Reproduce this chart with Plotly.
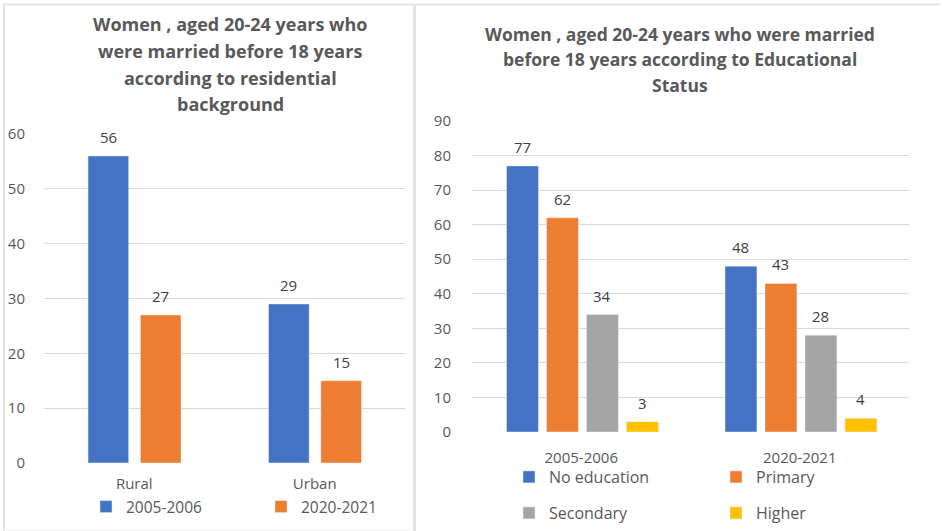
import plotly.graph_objects as go

# ---- data ----
res_categories = ["Rural", "Urban"]
res_years = ["2005-2006", "2020-2021"]
res_values = {"2005-2006": [56, 29], "2020-2021": [27, 15]}

edu_categories = ["2005-2006", "2020-2021"]
edu_levels = ["No education", "Primary", "Secondary", "Higher"]
edu_values = {
    "No education": [77, 48],
    "Primary": [62, 43],
    "Secondary": [34, 28],
    "Higher": [3, 4],
}

res_ticks = [0, 10, 20, 30, 40, 50, 60]
edu_ticks = [0, 10, 20, 30, 40, 50, 60, 70, 80, 90]

res_title_lines = ["Women , aged 20-24 years who", "were married before 18 years",
                   "according to residential", "background"]
edu_title_lines = ["Women , aged 20-24 years who were married",
                   "before 18 years according to Educational", "Status"]

# ---- styles ----
W, H = 942, 531
colors = {
    "2005-2006": "#4472C4", "2020-2021": "#ED7D31",
    "No education": "#4472C4", "Primary": "#ED7D31",
    "Secondary": "#A5A5A5", "Higher": "#FFC000",
}
FONT = "Open Sans"
TXT = "#595959"
GRID = "#D9D9D9"

res_width = 0.225
res_offsets = [-0.256, 0.034]
edu_width = 0.146
edu_offsets = [-0.342, -0.159, 0.024, 0.207]

fig = go.Figure()
annotations = []

for i, yr in enumerate(res_years):
    fig.add_trace(go.Bar(
        x=res_categories, y=res_values[yr], name=yr,
        marker_color=colors[yr], width=res_width, offset=res_offsets[i],
        xaxis="x", yaxis="y", legend="legend", hoverinfo="skip",
    ))
    for j, v in enumerate(res_values[yr]):
        annotations.append(dict(
            x=j + res_offsets[i] + res_width / 2, y=v, xref="x", yref="y",
            text=str(v), showarrow=False, yanchor="bottom", yshift=7,
            font=dict(family=FONT, size=15, color="#404040"),
        ))

for i, lv in enumerate(edu_levels):
    fig.add_trace(go.Bar(
        x=edu_categories, y=edu_values[lv], name=lv,
        marker_color=colors[lv], width=edu_width, offset=edu_offsets[i],
        xaxis="x2", yaxis="y2", legend="legend2" if i < 2 else "legend3",
        hoverinfo="skip",
    ))
    for j, v in enumerate(edu_values[lv]):
        annotations.append(dict(
            x=j + edu_offsets[i] + edu_width / 2, y=v, xref="x2", yref="y2",
            text=str(v), showarrow=False, yanchor="bottom", yshift=7,
            font=dict(family=FONT, size=15, color="#404040"),
        ))

# titles (one annotation per line to match line spacing)
for k, line in enumerate(res_title_lines):
    annotations.append(dict(
        x=230 / W, y=1 - (24 + 26.8 * k) / H, xref="paper", yref="paper",
        xanchor="center", yanchor="middle", text="<b>" + line + "</b>",
        showarrow=False, font=dict(family=FONT, size=18, color=TXT),
    ))
for k, line in enumerate(edu_title_lines):
    annotations.append(dict(
        x=680 / W, y=1 - (34 + 25.5 * k) / H, xref="paper", yref="paper",
        xanchor="center", yanchor="middle", text="<b>" + line + "</b>",
        showarrow=False, font=dict(family=FONT, size=17.5, color=TXT),
    ))

axis_common = dict(
    showline=False, zeroline=False, ticks="", fixedrange=True, automargin=False,
    tickfont=dict(family=FONT, size=15, color=TXT),
)

shapes = [
    dict(type="line", xref="paper", yref="paper", x0=3 / W, x1=940 / W, y0=1 - 4.5 / H, y1=1 - 4.5 / H,
         line=dict(color="#E3E3E3", width=2)),
    dict(type="line", xref="paper", yref="paper", x0=4 / W, x1=4 / W, y0=0, y1=1 - 4.5 / H,
         line=dict(color="#E3E3E3", width=2)),
    dict(type="line", xref="paper", yref="paper", x0=414.5 / W, x1=414.5 / W, y0=0, y1=1 - 4.5 / H,
         line=dict(color="#E3E3E3", width=3)),
    dict(type="line", xref="paper", yref="paper", x0=3 / W, x1=414 / W, y0=1.5 / H, y1=1.5 / H,
         line=dict(color="#F0F0F0", width=1)),
]

legend_common = dict(orientation="h", xanchor="left", yanchor="middle",
                     font=dict(family=FONT, size=16, color=TXT),
                     bgcolor="rgba(0,0,0,0)", itemclick=False, itemdoubleclick=False)

fig.update_layout(
    width=W, height=H, margin=dict(l=0, r=0, t=0, b=0, autoexpand=False),
    paper_bgcolor="white", plot_bgcolor="white",
    barmode="overlay",
    xaxis=dict(domain=[44 / W, 405 / W], anchor="y", type="category",
               **axis_common, showgrid=False, ticklabelstandoff=10),
    yaxis=dict(domain=[(H - 463) / H, (H - 134) / H], anchor="x", range=[0, 60],
               tickvals=res_ticks, showgrid=True, gridcolor=GRID, gridwidth=1,
               ticklabelstandoff=18, **axis_common),
    xaxis2=dict(domain=[472 / W, 909 / W], anchor="y2", type="category",
                **axis_common, showgrid=False, ticklabelstandoff=15),
    yaxis2=dict(domain=[(H - 432) / H, (H - 121) / H], anchor="x2", range=[0, 90],
                tickvals=edu_ticks, showgrid=True, gridcolor=GRID, gridwidth=1,
                ticklabelstandoff=20, **axis_common),
    legend=dict(x=86 / W, y=1 - 507 / H, entrywidth=130,
                **{**legend_common, "font": dict(family=FONT, size=15.5, color=TXT)}),
    legend2=dict(x=509 / W, y=1 - 477 / H, entrywidth=162, **legend_common),
    legend3=dict(x=509 / W, y=1 - 513 / H, entrywidth=162, **legend_common),
    annotations=annotations,
    shapes=shapes,
    showlegend=True,
)

fig.write_html("out.html", config={"displayModeBar": False},
               post_script="document.body.style.margin='0';document.body.style.overflow='hidden';")
